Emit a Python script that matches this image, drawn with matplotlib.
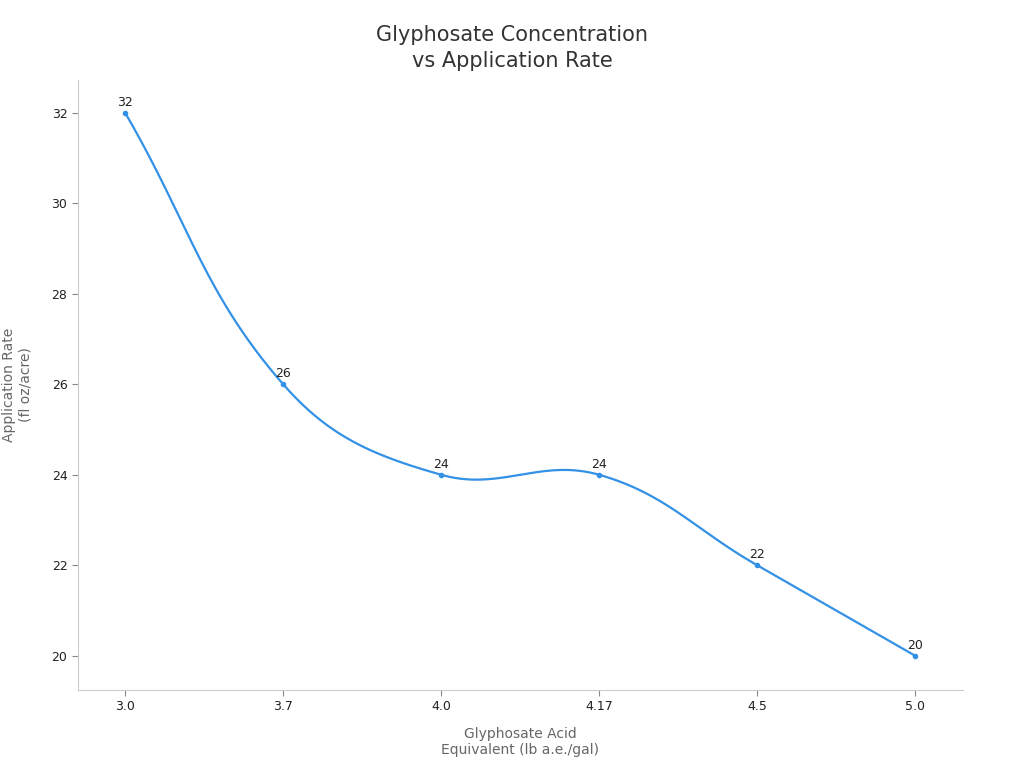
import matplotlib
matplotlib.use("Agg")
import matplotlib.pyplot as plt
import numpy as np

categories = ["3.0", "3.7", "4.0", "4.17", "4.5", "5.0"]
rates = [32, 26, 24, 24, 22, 20]
color = "#3391e6"

fig = plt.figure(figsize=(10.24, 7.68), dpi=100)
ax = fig.add_axes([0.076, 0.102, 0.864, 0.794])
ax.set_xlim(-0.30, 5.30)
ax.set_ylim(19.25, 32.73)
fig.canvas.draw()

x = np.arange(len(categories), dtype=float)
y = np.array(rates, dtype=float)
pts = ax.transData.transform(np.column_stack([x, y]))
n = len(pts)
t = 0.4
cp_prev = pts.copy(); cp_next = pts.copy()
for i in range(n):
    p0 = pts[i-1] if i > 0 else pts[i]
    p2 = pts[i+1] if i < n-1 else pts[i]
    d01 = np.hypot(*(pts[i]-p0)); d12 = np.hypot(*(p2-pts[i]))
    tot = d01 + d12
    s01 = d01/tot if tot else 0; s12 = d12/tot if tot else 0
    cp_prev[i] = pts[i] - t*s01*(p2-p0)
    cp_next[i] = pts[i] + t*s12*(p2-p0)
curve = []
u = np.linspace(0, 1, 60)[:, None]
for i in range(n-1):
    a, b, c, d = pts[i], cp_next[i], cp_prev[i+1], pts[i+1]
    seg = (1-u)**3*a + 3*(1-u)**2*u*b + 3*(1-u)*u**2*c + u**3*d
    curve.append(seg)
curve = ax.transData.inverted().transform(np.vstack(curve))
ax.plot(curve[:, 0], curve[:, 1], color=color, lw=1.6)
ax.plot(x, y, 'o', color=color, ms=3)
for xi, yi in zip(x, y):
    ax.annotate(f"{int(yi)}", (xi, yi), xytext=(0, 3), textcoords="offset points",
                ha="center", va="bottom", fontsize=9, color="#222222")

ax.set_xticks(x)
ax.set_xticklabels(categories)
ax.set_yticks([20, 22, 24, 26, 28, 30, 32])
for s in ["top", "right"]:
    ax.spines[s].set_visible(False)
for s in ["left", "bottom"]:
    ax.spines[s].set_color("#cccccc")
ax.tick_params(colors="#222222", labelsize=9)
ax.tick_params(axis="both", color="#888888", length=4)
ax.set_xlabel("Glyphosate Acid\nEquivalent (lb a.e./gal)", fontsize=10, color="#666666", labelpad=10)
ax.set_ylabel("Application Rate\n(fl oz/acre)", fontsize=10, color="#666666", labelpad=14)
fig.suptitle("Glyphosate Concentration\nvs Application Rate", y=0.968, fontsize=15,
             color="#333333", linespacing=1.4)
fig.savefig("out.png", dpi=100)
